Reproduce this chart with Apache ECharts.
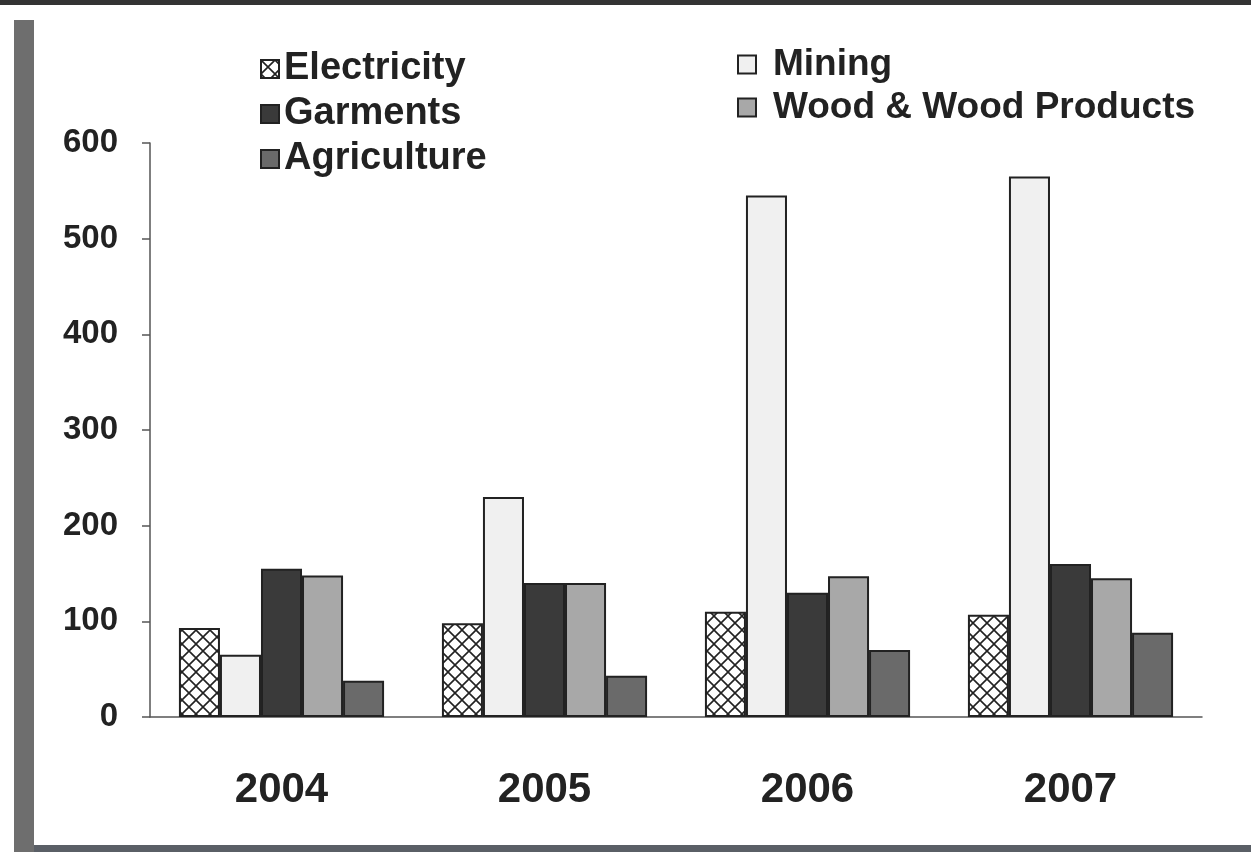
<!DOCTYPE html>
<html>
<head>
<meta charset="utf-8">
<script src="https://cdn.jsdelivr.net/npm/echarts@6/dist/echarts.min.js"></script>
<style>
  html, body { margin: 0; padding: 0; background: #fff; }
  #main { width: 1251px; height: 852px; }
</style>
</head>
<body>
<div id="main"></div>
<script>
var years = ['2004', '2005', '2006', '2007'];
var electricity = [93, 98, 110, 107];
var mining = [65, 230, 545, 565];
var garments = [155, 140, 130, 160];
var wood = [148, 140, 147, 145];
var agriculture = [38, 43, 70, 88];
var yTicks = [0, 100, 200, 300, 400, 500, 600];

// cross hatch for electricity
function hatch() {
    var c = document.createElement('canvas');
    c.width = 14; c.height = 14;
    var g = c.getContext('2d');
    g.fillStyle = '#fff';
    g.fillRect(0, 0, 14, 14);
    g.strokeStyle = '#222';
    g.lineWidth = 1.6;
    g.beginPath();
    g.moveTo(0, 0); g.lineTo(14, 14);
    g.moveTo(14, 0); g.lineTo(0, 14);
    g.stroke();
    return c;
}

var chart = echarts.init(document.getElementById('main'));
var font = 'Liberation Sans';

function bar(name, data, fill) {
    return {
        name: name,
        type: 'bar',
        data: data,
        barGap: '0%',
        barCategoryGap: '22%',
        itemStyle: { color: fill, borderColor: '#222', borderWidth: 2 }
    };
}

chart.setOption({
    animation: false,
    backgroundColor: '#fff',
    graphic: [
        { type: 'rect', shape: { x: 0, y: 0, width: 1251, height: 5 }, style: { fill: '#333' } },
        { type: 'rect', shape: { x: 14, y: 20, width: 20, height: 832 }, style: { fill: '#6e6e6e' } },
        { type: 'rect', shape: { x: 34, y: 845, width: 1217, height: 7 }, style: { fill: '#5a5f66' } }
    ],
    legend: [{
        data: ['Electricity', 'Garments', 'Agriculture'],
        orient: 'vertical',
        left: 255, top: 45,
        icon: 'rect',
        itemWidth: 18, itemHeight: 18, itemGap: 7,
        textStyle: { fontFamily: font, fontWeight: 'bold', fontSize: 38, lineHeight: 38, color: '#222' }
    }, {
        data: ['Mining', 'Wood & Wood Products'],
        orient: 'vertical',
        left: 732, top: 41,
        icon: 'rect',
        itemWidth: 18, itemHeight: 18, itemGap: 6,
        textStyle: { fontFamily: font, fontWeight: 'bold', fontSize: 37, lineHeight: 37, color: '#222', padding: [0, 0, 0, 12] }
    }],
    grid: { left: 150, right: 49, top: 143, bottom: 135 },
    xAxis: {
        type: 'category',
        data: years,
        axisLine: { lineStyle: { color: '#555', width: 1.5 } },
        axisTick: { length: 15, lineStyle: { color: '#555', width: 1.5 } },
        axisLabel: { margin: 52, fontFamily: font, fontWeight: 'bold', fontSize: 42, color: '#222' }
    },
    yAxis: {
        type: 'value',
        min: yTicks[0], max: yTicks[yTicks.length - 1], interval: 100,
        splitLine: { show: false },
        axisLine: { show: true, lineStyle: { color: '#555', width: 1.5 } },
        axisTick: { show: true, length: 8, lineStyle: { color: '#555', width: 1.5 } },
        axisLabel: { margin: 32, fontFamily: font, fontWeight: 'bold', fontSize: 33, color: '#222' }
    },
    series: [
        bar('Electricity', electricity, { image: hatch(), repeat: 'repeat' }),
        bar('Mining', mining, '#f0f0f0'),
        bar('Garments', garments, '#3a3a3a'),
        bar('Wood & Wood Products', wood, '#a8a8a8'),
        bar('Agriculture', agriculture, '#6a6a6a')
    ]
});
</script>
</body>
</html>
